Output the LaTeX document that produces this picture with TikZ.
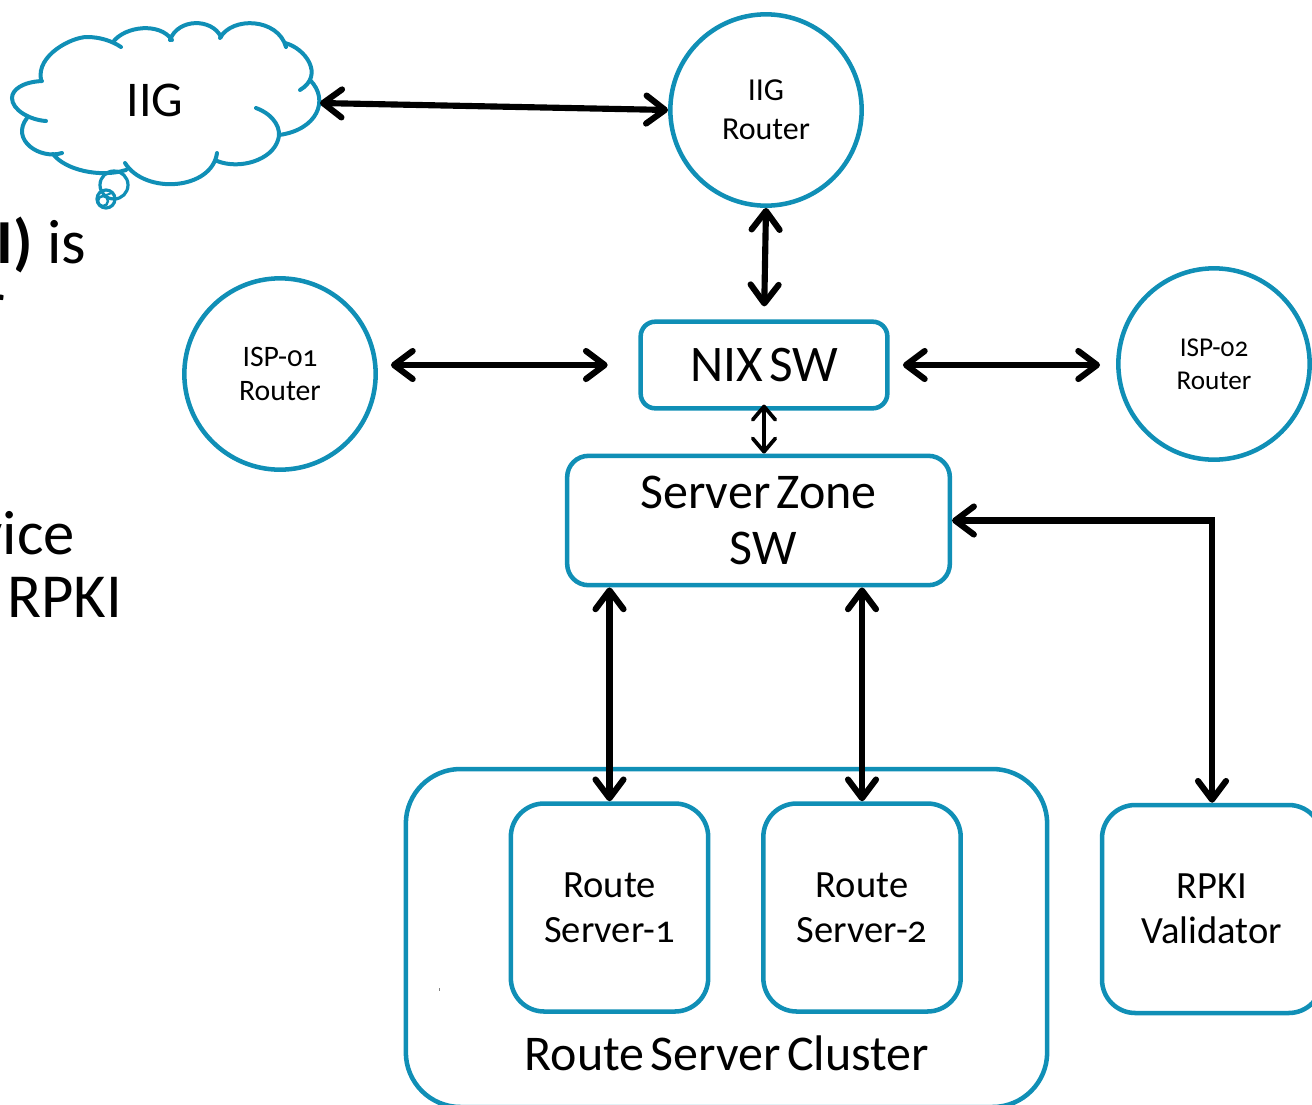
\documentclass[tikz,border=0pt]{standalone}
\usepackage{fontspec}
\setmainfont[Numbers=OldStyle,WordSpace=0.55]{Carlito}
\usetikzlibrary{arrows.meta,positioning}
\definecolor{netblue}{RGB}{16,143,182}
\tikzset{
  circlenode/.style={circle,draw=netblue,line width=3.4pt,inner sep=0pt,minimum size=143.5pt,align=center},
  boxnode/.style={rectangle,draw=netblue,line width=3.4pt,inner sep=0pt,align=center},
  biarrow/.style={line width=4.6pt,line cap=round,{Straight Barb[round,length=14pt,width=21pt]}-{Straight Barb[round,length=14pt,width=21pt]}},
  thinarrow/.style={line width=2.8pt,line cap=round,{Straight Barb[round,length=10pt,width=17pt]}-{Straight Barb[round,length=10pt,width=17pt]}},
  cloudline/.style={draw=netblue,line width=3pt,line cap=round},
  bigtext/.style={font=\fontsize{37.5}{42}\selectfont},
  midtext/.style={font=\fontsize{28.9}{34}\selectfont},
  sidetext/.style={font=\fontsize{47}{52}\selectfont,inner sep=0pt}
}
\begin{document}
\begin{tikzpicture}[x=0.75pt,y=0.75pt,yscale=-1,xscale=1]
\useasboundingbox (0,0) rectangle (1312,1104);
%Shape: Cloud
\draw [cloudline] (42,81) .. controls (22,82) and (12,90) .. (12,98) .. controls (12,110) and (30,120) .. (46,121);
\draw [cloudline] (41,80) .. controls (36,55) and (72,37) .. (87,37) .. controls (100,37) and (112,41) .. (121,47);
\draw [cloudline] (113,42) .. controls (125,26) and (160,22) .. (172,40);
\draw [cloudline] (170,40) .. controls (178,18) and (212,18) .. (221,37);
\draw [cloudline] (220,38) .. controls (232,16) and (278,18) .. (286,47);
\draw [cloudline] (285,43) .. controls (305,48) and (325,75) .. (300,90);
\draw [cloudline] (310,80) .. controls (330,100) and (317,130) .. (279,135);
\draw [cloudline] (256,108) .. controls (275,115) and (282,130) .. (278,140) .. controls (272,160) and (240,170) .. (217,161);
\draw [cloudline] (217,153) .. controls (212,190) and (145,195) .. (125,163);
\draw [cloudline] (126,170) .. controls (100,178) and (65,170) .. (53,154);
\draw [cloudline] (62,153) .. controls (40,160) and (10,140) .. (27,118);
%Shape: Cloud bubbles
\draw [cloudline,line width=2.4pt] (114,185) circle (14);
\draw [cloudline,line width=2.4pt] (106,199) circle (9);
\draw [cloudline,line width=1.8pt] (103,201) circle (5);
\draw [cloudline,line width=1.5pt] (100,197) -- (112,193);
% Text Node
\node (iig) [bigtext] at (155,100) {IIG};
\coordinate (iigport) at (320,103);
%Shape: Circle
\node (iigrouter) [circlenode,font=\fontsize{24}{29}\selectfont] at (766,110) {IIG\\Router};
\node (isp01) [circlenode,font=\fontsize{22.3}{26}\selectfont] at (280,374) {ISP-01\\Router};
\node (isp02) [circlenode,font=\fontsize{20.4}{25}\selectfont] at (1214,364) {ISP-02\\Router};
%Shape: Rectangle
\node (nixsw) [boxnode,rounded corners=11pt,minimum width=185pt,minimum height=65pt,font=\fontsize{38.5}{42}\selectfont] at (764,365) {NIX SW};
\node (zonesw) [boxnode,rounded corners=16pt,minimum width=287pt,minimum height=97pt,bigtext] at (758.5,520.5) {Server Zone\\\hspace*{7pt}SW};
\node (cluster) [boxnode,rounded corners=41pt,minimum width=481pt,minimum height=253.5pt] at (726.5,938) {};
\node (server1) [boxnode,rounded corners=25pt,minimum width=148pt,minimum height=156pt,midtext] at (609.5,907.5) {Route\\Server-1};
\node (server2) [boxnode,rounded corners=25pt,minimum width=148pt,minimum height=156pt,midtext] at (862,907.5) {Route\\Server-2};
\node (rpki) [boxnode,rounded corners=25pt,minimum width=165pt,minimum height=156pt,midtext] at (1212,909) {RPKI\\Validator};
% Text Node
\node (clusterlabel) [bigtext] at (727,1053) {Route Server Cluster};
\node (sidebold) [sidetext,anchor=base east] at (33,263) {\bfseries I)};
\node (sideis) [sidetext,anchor=base west] at (47,263) {is};
\node (sider) [sidetext,anchor=base east] at (6,325) {r};
\node (sidevice) [sidetext,anchor=base east] at (75,554) {vice};
\node (siderpki) [sidetext,anchor=base west] at (7,617) {RPKI};
%Straight Lines
\draw [biarrow] (iigport) -- (iigrouter.west);
\draw [biarrow,shorten >=9.75pt] (iigrouter.south) -- (nixsw.north);
\draw [biarrow,shorten <=9.75pt,shorten >=23pt] (nixsw.west -| isp01.east) -- (nixsw.west);
\draw [biarrow,shorten <=10pt,shorten >=12pt] (nixsw.east) -- (nixsw.east -| isp02.west);
\draw [thinarrow,shorten <=-4.5pt] (nixsw.south) -- (zonesw.north -| nixsw.south);
\draw [biarrow] (server1.north |- zonesw.south) -- (server1.north);
\draw [biarrow] (server2.north |- zonesw.south) -- (server2.north);
\draw [biarrow] (zonesw.east) -| (rpki.north);
%Shape: Free Drawing
\draw [color={rgb, 255:red, 130; green, 130; blue, 130 },line width=0.75pt] (439,988) -- (439,991);
\end{tikzpicture}
\end{document}
